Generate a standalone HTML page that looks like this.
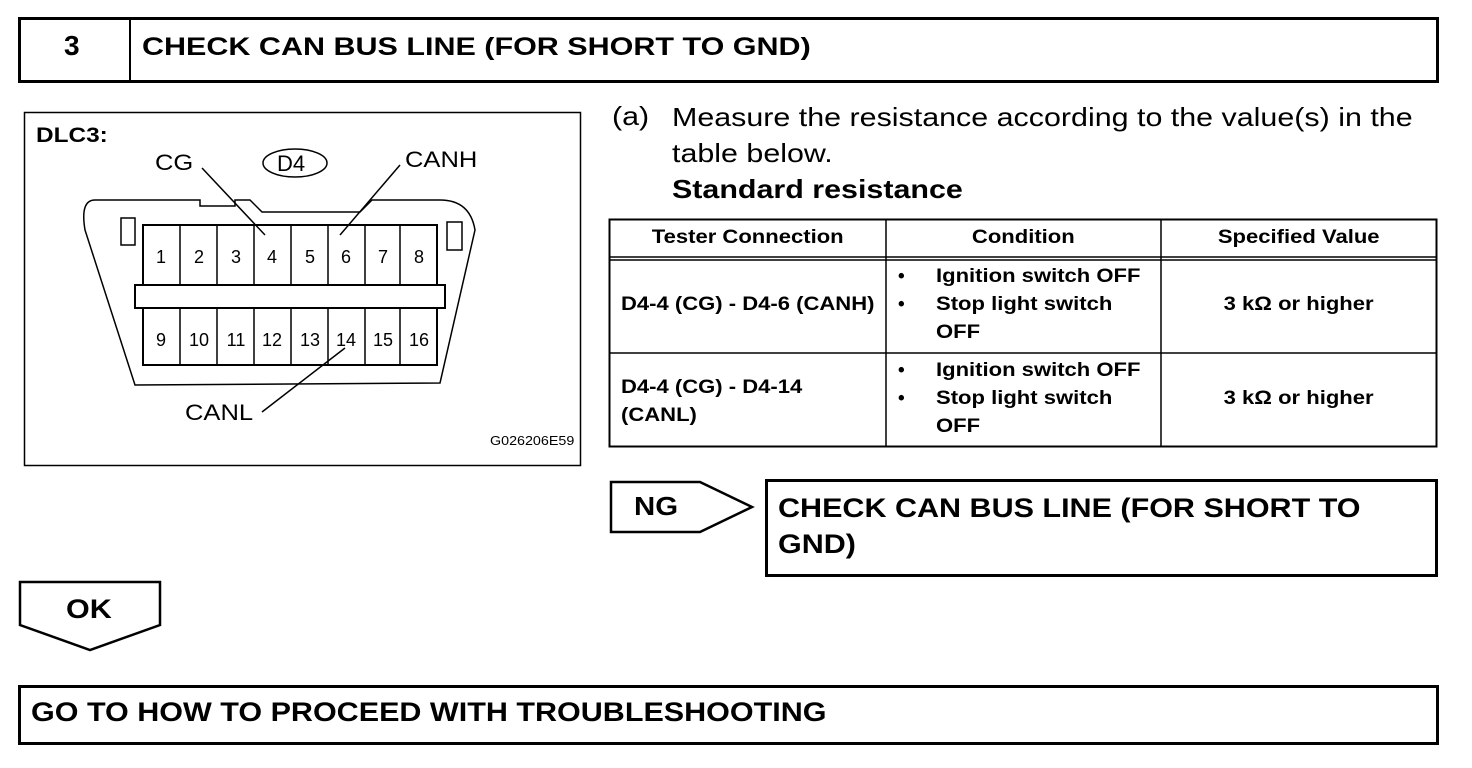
<!DOCTYPE html>
<html><head><style>
body{margin:0;width:1472px;height:768px;background:#fff;position:relative;font-family:"Liberation Sans",Arial,sans-serif;color:#000;overflow:hidden}
.a{position:absolute;white-space:nowrap;transform-origin:0 0}
.b{font-weight:bold}
.s{transform:scaleX(1.16)}
.c{position:absolute;white-space:nowrap;text-align:center}
.c span{display:inline-block;transform:scaleX(1.16)}
</style></head><body>
<svg class="a" style="left:0;top:0" width="1472" height="768">
<g fill="none" stroke="#000">
<rect x="19.5" y="18.5" width="1418" height="63" stroke-width="3"/>
<line x1="130" y1="18" x2="130" y2="82" stroke-width="2"/>
<rect x="24.5" y="112.5" width="556" height="353" stroke-width="1.5"/>
<ellipse cx="295" cy="163" rx="32" ry="14" stroke-width="1.5"/>
<path d="M95,200 L200,200 L200,206 L235,206 L235,200 L250,200 L262,212 L360,212 L372,200 L440,200 Q470,200 475,230 L440,383 L135,385 L85,230 Q80,200 95,200 Z" stroke-width="1.5"/>
<rect x="121" y="218" width="14" height="27" stroke-width="1.5"/>
<rect x="447" y="222" width="15" height="28" stroke-width="1.5"/>
<rect x="143" y="225" width="294" height="60" stroke-width="2"/>
<rect x="135" y="285" width="310" height="23" stroke-width="2"/>
<rect x="143" y="308" width="294" height="57" stroke-width="2"/>
<path d="M180,225V285M217,225V285M254,225V285M291,225V285M328,225V285M365,225V285M400,225V285M180,308V365M217,308V365M254,308V365M291,308V365M328,308V365M365,308V365M400,308V365" stroke-width="1.5"/>
<path d="M202,168L265,235M400,165L340,235M262,412L345,348" stroke-width="1.5"/>
<rect x="609.5" y="219.5" width="827" height="227" stroke-width="2"/>
<path d="M886,219V447M1161,219V447M609,257H1437M609,260H1437M609,353H1437" stroke-width="1.5"/>
<path d="M611,482H700L752,507L700,532H611Z" stroke-width="2.5"/>
<rect x="766.5" y="480.5" width="670" height="95" stroke-width="3"/>
<path d="M20,582H160V625L90,650L20,625Z" stroke-width="2.5"/>
<rect x="19.5" y="686.5" width="1418" height="57" stroke-width="3"/>
</g>
<g font-family="Liberation Sans,Arial,sans-serif" font-size="18" text-anchor="middle">
<text x="161" y="263">1</text><text x="199" y="263">2</text><text x="236" y="263">3</text><text x="272" y="263">4</text><text x="310" y="263">5</text><text x="346" y="263">6</text><text x="383" y="263">7</text><text x="419" y="263">8</text>
<text x="161" y="346">9</text><text x="199" y="346">10</text><text x="236" y="346">11</text><text x="272" y="346">12</text><text x="310" y="346">13</text><text x="346" y="346">14</text><text x="383" y="346">15</text><text x="419" y="346">16</text>
</g>
</svg>
<div class="a b" style="left:64px;top:30px;font-size:28px">3</div>
<div class="a b" style="left:142px;top:33px;font-size:25px;transform:scaleX(1.22)">CHECK CAN BUS LINE (FOR SHORT TO GND)</div>
<div class="a b s" style="left:36px;top:124px;font-size:21px">DLC3:</div>
<div class="a s" style="left:155px;top:150px;font-size:22px">CG</div>
<div class="a" style="left:277px;top:151px;font-size:22px">D4</div>
<div class="a s" style="left:405px;top:147px;font-size:22px">CANH</div>
<div class="a s" style="left:185px;top:400px;font-size:22px">CANL</div>
<div class="a" style="left:490px;top:433px;font-size:13px;transform:scaleX(1.1)">G026206E59</div>
<div class="a" style="left:612px;top:101px;font-size:26px;transform:scaleX(1.17)">(a)</div>
<div class="a" style="left:672px;top:99px;font-size:26px;line-height:36px;transform:scaleX(1.17)">Measure the resistance according to the value(s) in the<br>table below.<br><b>Standard resistance</b></div>
<div class="c b" style="left:609px;top:227px;width:277px;font-size:19px"><span>Tester Connection</span></div>
<div class="c b" style="left:886px;top:227px;width:275px;font-size:19px"><span>Condition</span></div>
<div class="c b" style="left:1161px;top:227px;width:276px;font-size:19px"><span>Specified Value</span></div>
<div class="a b s" style="left:621px;top:294px;font-size:19px">D4-4 (CG) - D4-6 (CANH)</div>
<div class="a b s" style="left:621px;top:374px;font-size:19px;line-height:28px">D4-4 (CG) - D4-14<br>(CANL)</div>
<div class="a b" style="left:898px;top:263px;font-size:19px;line-height:28px">•<br>•</div>
<div class="a b s" style="left:936px;top:263px;font-size:19px;line-height:28px">Ignition switch OFF<br>Stop light switch<br>OFF</div>
<div class="a b" style="left:898px;top:357px;font-size:19px;line-height:28px">•<br>•</div>
<div class="a b s" style="left:936px;top:357px;font-size:19px;line-height:28px">Ignition switch OFF<br>Stop light switch<br>OFF</div>
<div class="c b" style="left:1161px;top:294px;width:276px;font-size:19px"><span>3 kΩ or higher</span></div>
<div class="c b" style="left:1161px;top:388px;width:276px;font-size:19px"><span>3 kΩ or higher</span></div>
<div class="a b" style="left:634px;top:491px;font-size:26px;transform:scaleX(1.13)">NG</div>
<div class="a b" style="left:778px;top:490px;font-size:27px;line-height:36px;transform:scaleX(1.13)">CHECK CAN BUS LINE (FOR SHORT TO<br>GND)</div>
<div class="a b" style="left:66px;top:594px;font-size:27px;transform:scaleX(1.13)">OK</div>
<div class="a b" style="left:31px;top:697px;font-size:27px;transform:scaleX(1.13)">GO TO HOW TO PROCEED WITH TROUBLESHOOTING</div>
</body></html>
